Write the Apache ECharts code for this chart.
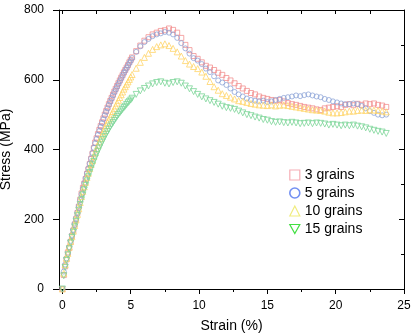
<!DOCTYPE html>
<html>
<head>
<meta charset="utf-8">
<script src="https://cdn.jsdelivr.net/npm/echarts@6/dist/echarts.min.js"></script>
<style>
  html, body { margin: 0; padding: 0; background: #fff; }
  #chart { width: 418px; height: 335px; }
</style>
</head>
<body>
<div id="chart"></div>
<script>
// strain (%) sample points: fine steps on the elastic rise, coarser afterwards
var strain = [0, 0.1, 0.2, 0.3, 0.4, 0.5, 0.6, 0.7, 0.8, 0.9,
  1, 1.1, 1.2, 1.3, 1.4, 1.5, 1.6, 1.7, 1.8, 1.9,
  2, 2.1, 2.2, 2.3, 2.4, 2.5, 2.6, 2.7, 2.8, 2.9,
  3, 3.1, 3.2, 3.3, 3.4, 3.5, 3.6, 3.7, 3.8, 3.9,
  4, 4.1, 4.2, 4.3, 4.4, 4.5, 4.6, 4.7, 4.8, 4.9, 5,
  5.1, 5.4, 5.7, 6, 6.3, 6.6, 6.9, 7.2, 7.5, 7.8,
  8.1, 8.4, 8.7, 9, 9.3, 9.6, 9.9, 10.2, 10.5, 10.8,
  11.1, 11.4, 11.7, 12, 12.3, 12.6, 12.9, 13.2, 13.5, 13.8,
  14.1, 14.4, 14.7, 15, 15.3, 15.6, 15.9, 16.2, 16.5, 16.8,
  17.1, 17.4, 17.7, 18, 18.3, 18.6, 18.9, 19.2, 19.5, 19.8,
  20.1, 20.4, 20.7, 21, 21.3, 21.6, 21.9, 22.2, 22.5, 22.8,
  23.1, 23.4, 23.7];

var stress3 = [0, 40, 65, 85, 105, 118, 135, 152, 168, 185,
  200, 218, 236, 256, 274, 290, 302, 315, 330, 343,
  358, 373, 388, 404, 420, 432, 444, 456, 467, 478,
  489, 500, 510, 520, 530, 539, 548, 557, 566, 574,
  582, 590, 598, 606, 613, 621, 628, 635, 642, 650, 657,
  664, 682, 698, 712, 722, 730, 735, 740, 742, 747,
  743, 735, 720, 700, 685, 668, 660, 650, 640, 635,
  628, 620, 614, 605, 598, 590, 582, 575, 568, 562,
  558, 552, 548, 545, 542, 540, 542, 538, 533, 530,
  528, 525, 522, 520, 518, 515, 513, 518, 520, 522,
  524, 522, 528, 530, 527, 531, 528, 532, 530, 532,
  528, 526, 522];

var stress5 = [0, 50, 70, 88, 100, 120, 138, 155, 170, 188,
  204, 220, 238, 255, 272, 288, 304, 318, 332, 346,
  360, 375, 390, 405, 418, 430, 442, 453, 465, 476,
  487, 498, 508, 518, 528, 537, 546, 555, 564, 572,
  580, 588, 596, 604, 612, 620, 627, 634, 641, 648, 655,
  662, 680, 696, 708, 717, 725, 730, 733, 737, 735,
  730, 720, 705, 690, 675, 662, 655, 645, 632, 622,
  610, 598, 592, 585, 575, 565, 558, 552, 546, 542,
  540, 538, 540, 536, 538, 542, 545, 548, 550, 552,
  555, 553, 556, 558, 555, 552, 550, 545, 542, 538,
  535, 532, 530, 530, 532, 530, 525, 518, 510, 505,
  500, 498, 500];

var stress10 = [0, 45, 70, 88, 102, 120, 136, 150, 166, 182,
  198, 214, 230, 248, 265, 280, 293, 306, 320, 332,
  345, 357, 368, 380, 391, 402, 412, 422, 432, 442,
  451, 460, 469, 477, 485, 493, 501, 509, 517, 525,
  533, 541, 549, 557, 565, 573, 580, 587, 594, 601, 608,
  615, 633, 650, 664, 676, 687, 695, 700, 703, 698,
  690, 680, 668, 655, 645, 638, 632, 622, 610, 595,
  580, 570, 560, 555, 550, 545, 540, 538, 535, 532,
  530, 528, 527, 526, 528, 525, 527, 528, 526, 524,
  522, 520, 518, 516, 514, 513, 512, 510, 507, 505,
  505, 506, 508, 510, 510, 512, 513, 512, 514, 513,
  512, 510, 508];

var stress15 = [0, 38, 62, 82, 98, 115, 132, 148, 163, 178,
  194, 210, 226, 242, 256, 270, 284, 297, 310, 322,
  334, 345, 356, 366, 376, 386, 395, 404, 413, 421,
  429, 437, 444, 451, 458, 465, 471, 477, 483, 489,
  495, 500, 505, 510, 515, 520, 524, 529, 534, 538, 542,
  547, 558, 568, 575, 582, 588, 592, 594, 590, 588,
  592, 594, 590, 582, 574, 566, 558, 551, 545, 540,
  535, 530, 524, 520, 518, 515, 510, 505, 500, 497,
  493, 490, 486, 484, 480, 478, 479, 477, 476, 478,
  476, 474, 475, 476, 474, 476, 475, 473, 470, 472,
  470, 468, 470, 468, 470, 467, 465, 462, 458, 455,
  452, 450, 446];

var seriesNames = ['3 grains', '5 grains', '10 grains', '15 grains'];
var xMajor = [0, 5, 10, 15, 20, 25];
var xMinor = [2.5, 7.5, 12.5, 17.5, 22.5];
var xTop = [0, 2.5, 5, 7.5, 10, 12.5, 15, 17.5, 20, 22.5, 25];
var yMajor = [0, 200, 400, 600, 800];
var yMinor = [100, 300, 500, 700];

function pairs(ys) {
  return strain.map(function (x, i) { return [x, ys[i]]; });
}

var font = 'Liberation Sans, Arial, sans-serif';
var chart = echarts.init(document.getElementById('chart'), null, { renderer: 'canvas' });

function baseX(extra) {
  return Object.assign({
    type: 'value', gridIndex: 0, min: -0.25, max: 25,
    splitLine: { show: false },
    axisLine: { show: false, onZero: false },
    axisTick: { show: false },
    axisLabel: { show: false }
  }, extra);
}
function baseY(extra) {
  return Object.assign({
    type: 'value', gridIndex: 0, min: 0, max: 800,
    splitLine: { show: false },
    axisLine: { show: false, onZero: false },
    axisTick: { show: false },
    axisLabel: { show: false }
  }, extra);
}

var lineStyle = { color: '#000', width: 1 };

var option = {
  animation: false,
  backgroundColor: '#fff',
  grid: { left: 59, right: 14, top: 10, bottom: 46, containLabel: false, outerBoundsMode: 'none' },
  legend: {
    orient: 'vertical',
    left: 284,
    top: 163,
    itemGap: 4,
    itemWidth: 10,
    itemHeight: 10,
    textStyle: { fontFamily: font, fontSize: 14, color: '#000' },
    data: [
      { name: '3 grains', itemStyle: { color: 'rgba(0,0,0,0)', borderColor: '#f4a0a8', borderWidth: 1.2 } },
      { name: '5 grains', itemStyle: { color: 'rgba(0,0,0,0)', borderColor: '#5a7cf0', borderWidth: 1.6 } },
      { name: '10 grains', itemStyle: { color: 'rgba(0,0,0,0)', borderColor: '#eeea70', borderWidth: 1.2 } },
      { name: '15 grains', icon: 'path://M0,0L10,0L5,9Z', itemStyle: { color: 'rgba(0,0,0,0)', borderColor: '#2edc2e', borderWidth: 1.2 } }
    ]
  },
  xAxis: [
    baseX({
      position: 'bottom',
      name: 'Strain (%)', nameLocation: 'middle', nameGap: 30,
      nameTextStyle: { fontFamily: font, fontSize: 14, color: '#000' },
      axisLine: { show: true, onZero: false, lineStyle: lineStyle },
      axisTick: { show: true, inside: false, length: 5, lineStyle: lineStyle, customValues: xMajor },
      axisLabel: { show: true, fontFamily: font, fontSize: 12, color: '#000', margin: 11, customValues: xMajor }
    }),
    baseX({
      position: 'bottom',
      axisTick: { show: true, inside: false, length: 3, lineStyle: lineStyle, customValues: xMinor }
    }),
    baseX({
      position: 'top',
      axisLine: { show: true, onZero: false, lineStyle: lineStyle },
      axisTick: { show: true, inside: true, length: 4, lineStyle: lineStyle, customValues: xTop }
    })
  ],
  yAxis: [
    baseY({
      position: 'left',
      name: 'Stress (MPa)', nameLocation: 'middle', nameGap: 43,
      nameTextStyle: { fontFamily: font, fontSize: 14, color: '#000' },
      axisLine: { show: true, onZero: false, lineStyle: lineStyle },
      axisTick: { show: true, inside: false, length: 6, lineStyle: lineStyle, customValues: yMajor },
      axisLabel: { show: true, fontFamily: font, fontSize: 12, color: '#000', margin: 15, customValues: yMajor }
    }),
    baseY({
      position: 'right',
      axisLine: { show: true, onZero: false, lineStyle: lineStyle },
      axisTick: { show: true, inside: true, length: 5, lineStyle: lineStyle, customValues: yMajor }
    }),
    baseY({
      position: 'right',
      axisTick: { show: true, inside: true, length: 3, lineStyle: lineStyle, customValues: yMinor }
    })
  ],
  series: [
    {
      name: seriesNames[0], type: 'scatter', symbol: 'rect', symbolSize: 5,
      itemStyle: { color: 'rgba(0,0,0,0)', borderColor: '#f28c8c', borderWidth: 0.9, opacity: 0.85 },
      data: pairs(stress3)
    },
    {
      name: seriesNames[1], type: 'scatter', symbol: 'circle', symbolSize: 5,
      itemStyle: { color: 'rgba(0,0,0,0)', borderColor: '#8aa2d6', borderWidth: 0.9, opacity: 0.85 },
      data: pairs(stress5)
    },
    {
      name: seriesNames[2], type: 'scatter', symbol: 'triangle', symbolSize: 6,
      itemStyle: { color: 'rgba(0,0,0,0)', borderColor: '#ffd56a', borderWidth: 0.9, opacity: 0.9 },
      data: pairs(stress10)
    },
    {
      name: seriesNames[3], type: 'scatter', symbol: 'triangle', symbolRotate: 180, symbolSize: 6,
      itemStyle: { color: 'rgba(0,0,0,0)', borderColor: '#7ed69a', borderWidth: 0.9, opacity: 0.9 },
      data: pairs(stress15)
    }
  ]
};
chart.setOption(option);
window.addEventListener('resize', chart.resize);
</script>
</body>
</html>
